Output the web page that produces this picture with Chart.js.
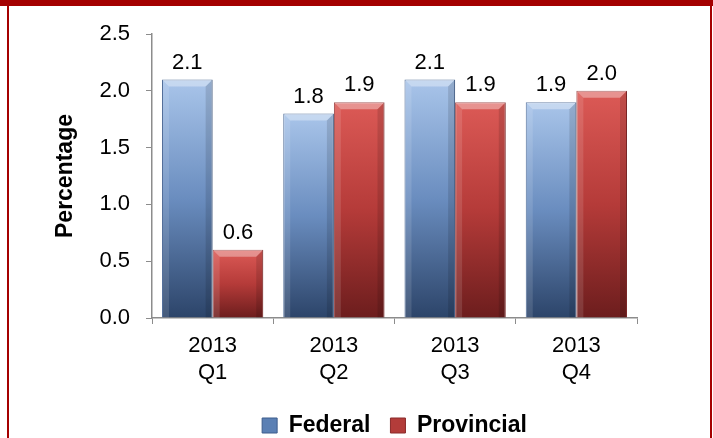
<!DOCTYPE html>
<html>
<head>
<meta charset="utf-8">
<script src="https://cdn.jsdelivr.net/npm/chart.js@4"></script>
<style>
  body { margin: 0; background: #fff; }
  #wrap { position: relative; width: 713px; height: 438px; overflow: hidden; }
  .frame { position: absolute; background: #a40000; z-index: 2; }
</style>
</head>
<body>
<div id="wrap">
  <canvas id="chart" width="713" height="438"></canvas>
  <div class="frame" style="left:0;top:0;width:713px;height:6px"></div>
  <div class="frame" style="left:7px;top:0;width:2px;height:438px"></div>
  <div class="frame" style="left:710px;top:0;width:2px;height:438px"></div>
</div>
<script>
const categories = [["2013", "Q1"], ["2013", "Q2"], ["2013", "Q3"], ["2013", "Q4"]];
const federal = [2.1, 1.8, 2.1, 1.9];
const provincial = [0.6, 1.9, 1.9, 2.0];
const yTicks = [0, 0.5, 1.0, 1.5, 2.0, 2.5];

const FONT = "'Liberation Sans', Arial, sans-serif";

// per-bar vertical gradient, light at top, dark at base
function barFill(light, mid, dark) {
  return (c) => {
    const chart = c.chart;
    if (!chart.chartArea || c.raw === undefined) return mid;
    const y = chart.scales.y;
    const top = y.getPixelForValue(c.raw);
    const bot = y.getPixelForValue(0);
    const g = chart.ctx.createLinearGradient(0, top, 0, bot);
    g.addColorStop(0, light);
    g.addColorStop(0.5, mid);
    g.addColorStop(1, dark);
    return g;
  };
}

// bevel highlights on each bar + value labels above
const barDecor = {
  id: "barDecor",
  afterDatasetsDraw(chart) {
    const ctx = chart.ctx;
    chart.data.datasets.forEach((ds, i) => {
      const meta = chart.getDatasetMeta(i);
      meta.data.forEach((bar, j) => {
        const p = bar.getProps(["x", "y", "base", "width"], true);
        const l = p.x - p.width / 2, r = p.x + p.width / 2;
        const b = 7;
        ctx.save();
        ctx.fillStyle = "rgba(255,255,255,0.35)";
        ctx.beginPath();
        ctx.moveTo(l, p.y); ctx.lineTo(r, p.y); ctx.lineTo(r - b, p.y + b); ctx.lineTo(l + b, p.y + b);
        ctx.closePath(); ctx.fill();
        ctx.fillStyle = "rgba(255,255,255,0.12)";
        ctx.beginPath();
        ctx.moveTo(l, p.y); ctx.lineTo(l + b, p.y + b); ctx.lineTo(l + b, p.base); ctx.lineTo(l, p.base);
        ctx.closePath(); ctx.fill();
        ctx.fillStyle = "rgba(0,0,0,0.12)";
        ctx.beginPath();
        ctx.moveTo(r, p.y); ctx.lineTo(r - b, p.y + b); ctx.lineTo(r - b, p.base); ctx.lineTo(r, p.base);
        ctx.closePath(); ctx.fill();

        ctx.fillStyle = "#000";
        ctx.font = "22px " + FONT;
        ctx.textAlign = "center";
        ctx.textBaseline = "bottom";
        ctx.fillText(ds.data[j].toFixed(1), p.x, p.y - 6);
        ctx.restore();
      });
    });
  }
};

// centre the legend under the plot area and drop it a little
const legendPlace = {
  id: "legendPlace",
  afterLayout(chart) {
    const lg = chart.legend, a = chart.chartArea;
    lg.left = a.left;
    lg.right = a.right;
    lg.width = a.right - a.left;
    const shift = 420 - 12 - lg.top - 14;
    lg.top += shift;
    lg.bottom += shift;
  }
};

new Chart(document.getElementById("chart"), {
  type: "bar",
  data: {
    labels: categories,
    datasets: [
      {
        label: "Federal",
        data: federal,
        backgroundColor: barFill("#a9c5ea", "#6a8dbf", "#2c4469"),
        borderColor: "#3d5c8c",
        borderWidth: 1,
        legendColor: "#5b80b4"
      },
      {
        label: "Provincial",
        data: provincial,
        backgroundColor: barFill("#dc5a56", "#b53b39", "#6c1d1d"),
        borderColor: "#8a2a2a",
        borderWidth: 1,
        legendColor: "#b33c3a"
      }
    ]
  },
  options: {
    responsive: false,
    animation: false,
    layout: { padding: { top: 34, right: 76, bottom: 0, left: 52 } },
    datasets: { bar: { categoryPercentage: 0.835, barPercentage: 1.0 } },
    plugins: {
      tooltip: { enabled: false },
      legend: {
        position: "bottom",
        labels: {
          color: "#000",
          font: { family: FONT, size: 23, weight: "bold" },
          boxWidth: 15,
          boxHeight: 15,
          padding: 20,
          generateLabels(chart) {
            return chart.data.datasets.map((ds, i) => ({
              text: ds.label,
              fillStyle: ds.legendColor,
              strokeStyle: ds.borderColor,
              lineWidth: 1,
              fontColor: "#000",
              datasetIndex: i
            }));
          }
        }
      }
    },
    scales: {
      x: {
        grid: { display: true, drawOnChartArea: false, offset: true, tickLength: 6, color: "#8c8c8c" },
        border: { color: "#8c8c8c", width: 1.5 },
        ticks: { color: "#000", font: { family: FONT, size: 22 }, padding: 9, maxRotation: 0 },
        afterFit(scale) { scale.height = 67; }
      },
      y: {
        min: 0,
        max: 2.5,
        afterBuildTicks(scale) { scale.ticks = yTicks.map(v => ({ value: v })); },
        grid: { display: true, drawOnChartArea: false, tickLength: 6, color: "#8c8c8c" },
        border: { color: "#8c8c8c", width: 1.5 },
        ticks: { color: "#000", font: { family: FONT, size: 22 }, padding: 16, callback: v => v.toFixed(1) },
        title: { display: true, text: "Percentage", color: "#000", font: { family: FONT, size: 23, weight: "bold" }, padding: { top: 0, bottom: 0 } },
        afterFit(scale) { scale.width = 100; }
      }
    }
  },
  plugins: [barDecor, legendPlace]
});
</script>
</body>
</html>
